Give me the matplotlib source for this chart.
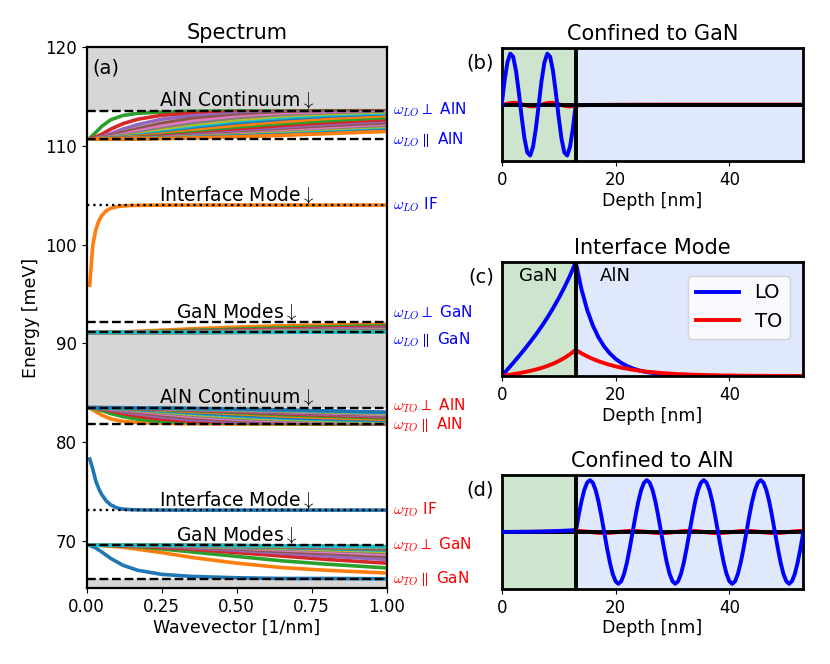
import numpy as np
import matplotlib
matplotlib.use("Agg")
import matplotlib.pyplot as plt
import matplotlib.transforms as mtransforms

plt.rcParams['mathtext.fontset'] = 'cm'
plt.rcParams['font.size'] = 12

# ---------------- spectrum data ----------------
# wavevector samples [1/nm]
q = [0.01, 0.03, 0.05, 0.08, 0.12, 0.17, 0.25, 0.35, 0.5, 0.65, 0.8, 1.0]
q_if = [0.01, 0.02, 0.03, 0.04, 0.05, 0.065, 0.08, 0.1, 0.12, 0.15, 0.2, 0.3, 0.5, 1.0]

# bulk phonon energies [meV]
lo_perp_aln, lo_par_aln = 113.58, 110.71
lo_perp_gan, lo_par_gan = 92.14, 91.12
to_perp_aln, to_par_aln = 83.49, 81.83
to_perp_gan, to_par_gan = 69.57, 66.13
lo_if, to_if = 104.02, 73.12

# interface modes [meV]
lo_if_curve = [95.9, 99.9, 101.5, 102.4, 102.95, 103.45, 103.7, 103.85, 103.93, 103.98, 104.0, 104.02, 104.02, 104.02]
to_if_curve = [78.3, 77.3, 76.1, 75.3, 74.7, 74.05, 73.65, 73.35, 73.22, 73.16, 73.13, 73.12, 73.12, 73.12]

# confined modes, read as position inside their band (0 = q->0 edge, 1 = far edge)
aln_frac = [
    [.03, .23, .45, .68, .83, .91, .95, .98, .99, .99, 1.0, 1.0],
    [.01, .07, .17, .35, .54, .70, .84, .91, .95, .97, .98, .99],
    [.00, .03, .08, .19, .35, .51, .70, .82, .90, .94, .96, .97],
    [.00, .02, .05, .12, .23, .37, .56, .72, .84, .90, .93, .95],
    [.00, .01, .03, .08, .16, .28, .45, .62, .77, .85, .89, .93],
    [.00, .01, .02, .06, .12, .21, .36, .53, .70, .80, .85, .90],
    [.00, .01, .02, .04, .09, .16, .30, .45, .63, .74, .81, .87],
    [.00, .00, .01, .03, .07, .13, .24, .39, .56, .69, .77, .84],
    [.00, .00, .01, .03, .06, .11, .20, .33, .51, .63, .72, .80],
    [.00, .00, .01, .02, .05, .09, .17, .29, .45, .58, .68, .77],
    [.00, .00, .01, .01, .03, .06, .13, .22, .36, .49, .60, .70],
    [.00, .00, .00, .01, .02, .05, .10, .17, .30, .42, .52, .63],
    [.00, .00, .00, .01, .02, .04, .07, .14, .24, .35, .45, .56],
    [.00, .00, .00, .01, .01, .03, .06, .11, .20, .30, .40, .51],
    [.00, .00, .00, .01, .01, .02, .05, .09, .17, .26, .35, .45],
    [.00, .00, .00, .00, .01, .02, .04, .08, .15, .22, .30, .41],
    [.00, .00, .00, .00, .01, .02, .03, .07, .13, .20, .27, .36],
    [.00, .00, .00, .00, .01, .01, .03, .06, .11, .17, .24, .33],
    [.00, .00, .00, .00, .00, .01, .03, .05, .10, .15, .21, .30],
    [.00, .00, .00, .00, .00, .01, .02, .04, .08, .13, .19, .27],
]

gan_lo_first = [0, 0, 0, 0, 0, 0, 0, 0, 0, 0, 0, 0]
gan_to_first = [.01, .08, .20, .39, .59, .74, .86, .92, .96, .98, .98, .99]
gan_frac = [
    [.00, .00, .01, .03, .06, .12, .22, .36, .53, .66, .74, .82],
    [.00, .00, .01, .01, .03, .05, .11, .20, .33, .46, .56, .67],
    [.00, .00, .00, .01, .02, .03, .07, .12, .22, .32, .42, .53],
    [.00, .00, .00, .00, .01, .02, .04, .08, .15, .23, .32, .42],
    [.00, .00, .00, .00, .01, .01, .03, .06, .11, .18, .24, .33],
    [.00, .00, .00, .00, .00, .01, .02, .04, .08, .14, .19, .27],
    [.00, .00, .00, .00, .00, .01, .02, .03, .07, .11, .15, .22],
    [.00, .00, .00, .00, .00, .00, .01, .03, .05, .09, .13, .18],
    [.00, .00, .00, .00, .00, .00, .01, .02, .04, .07, .10, .15],
    [.00, .00, .00, .00, .00, .00, .01, .02, .04, .06, .09, .13],
    [.00, .00, .00, .00, .00, .00, .01, .02, .03, .05, .07, .11],
    [.00, .00, .00, .00, .00, .00, .01, .01, .03, .04, .06, .10],
    [.00, .00, .00, .00, .00, .00, .01, .01, .02, .04, .06, .08],
    [0, 0, 0, 0, 0, 0, .005, .010, .020, .033, .049, .074],
    [0, 0, 0, 0, 0, 0, .004, .009, .017, .029, .043, .066],
    [0, 0, 0, 0, 0, 0, .004, .008, .015, .026, .038, .059],
    [0, 0, 0, 0, 0, 0, .003, .007, .014, .023, .035, .053],
    [0, 0, 0, 0, 0, 0, .003, .006, .012, .021, .031, .048],
    [0, 0, 0, 0, 0, 0, .003, .006, .011, .019, .028, .043],
]

# ---------------- mode profiles ----------------
well_width = 13
total_depth = 53

# (b) confined to GaN
depth_b_gan = np.arange(0, 13.01, 0.5)
lo_b_gan = [0, .465, .823, .993, .935, .663, .239, -.239, -.663, -.935, -.993, -.823, -.465,
            0, .465, .823, .993, .935, .663, .239, -.239, -.663, -.935, -.993, -.823, -.465, 0]
to_b_gan = [-.016, 0, .016, .029, .035, .033, .023, .008, -.008, -.023, -.033, -.035, -.029, -.016,
            0, .016, .029, .035, .033, .023, .008, -.008, -.023, -.033, -.035, -.029, -.016]
depth_b_aln = [13, 14, 15, 16, 17, 18, 19, 20, 22, 25, 30, 40, 53]
lo_b_aln = [0, 0, 0, 0, 0, 0, 0, 0, 0, 0, 0, 0, 0]
to_b_aln = [-.016, -.013, -.010, -.008, -.006, -.005, -.004, -.003, -.002, -.001, 0, 0, 0]

# (c) interface mode
depth_c = np.arange(0, 54)
lo_c = [0, .057, .114, .173, .234, .298, .364, .435, .511, .593, .681, .777, .881, 1.0,
        .763, .582, .444, .339, .259, .198, .151, .115, .088, .067,
        .051, .039, .030, .023, .017, .013, .010, .008, .006, .005,
        .003, .003, .002, .002, .001, .001, .001, .001, 0, 0,
        0, 0, 0, 0, 0, 0, 0, 0, 0, 0]
to_c = [0, .008, .016, .025, .034, .045, .057, .071, .088, .107, .131, .158, .191, .23,
        .199, .173, .150, .130, .113, .098, .085, .073, .064, .055,
        .048, .041, .036, .031, .027, .023, .020, .017, .015, .013,
        .011, .010, .008, .007, .006, .005, .005, .004, .003, .003,
        .002, .002, .002, .001, .001, .001, .001, .001, 0, 0]

# (d) confined to AlN
depth_d_gan = np.arange(0, 14)
lo_d_gan = [0, .001, .002, .003, .004, .005, .007, .009, .012, .015, .019, .024, .030, .037]
to_d_gan = [0, .001, .001, .002, .002, .003, .004, .005, .006, .008, .010, .013, .017, .022]
depth_d_aln = np.arange(13, 53.01, 0.5)
lo_d_aln = [0, .309, .588, .809, .951, 1, .951, .809, .588, .309, 0, -.309, -.588, -.809, -.951, -1, -.951, -.809, -.588, -.309,
            0, .309, .588, .809, .951, 1, .951, .809, .588, .309, 0, -.309, -.588, -.809, -.951, -1, -.951, -.809, -.588, -.309,
            0, .309, .588, .809, .951, 1, .951, .809, .588, .309, 0, -.309, -.588, -.809, -.951, -1, -.951, -.809, -.588, -.309,
            0, .309, .588, .809, .951, 1, .951, .809, .588, .309, 0, -.309, -.588, -.809, -.951, -1, -.951, -.809, -.588, -.309,
            0]
to_d_aln = [.022, .021, .018, .013, .007, 0, -.007, -.013, -.018, -.021, -.022, -.021, -.018, -.013, -.007, 0, .007, .013, .018, .021,
            .022, .021, .018, .013, .007, 0, -.007, -.013, -.018, -.021, -.022, -.021, -.018, -.013, -.007, 0, .007, .013, .018, .021,
            .022, .021, .018, .013, .007, 0, -.007, -.013, -.018, -.021, -.022, -.021, -.018, -.013, -.007, 0, .007, .013, .018, .021,
            .022, .021, .018, .013, .007, 0, -.007, -.013, -.018, -.021, -.022, -.021, -.018, -.013, -.007, 0, .007, .013, .018, .021,
            .022]

# ---------------- figure ----------------
fig = plt.figure(figsize=(8.3, 6.64), dpi=100)
ax = fig.add_axes([0.1045, 0.114, 0.3614, 0.8147])
ax_b = fig.add_axes([0.6045, 0.7575, 0.3634, 0.170])
ax_c = fig.add_axes([0.6045, 0.4337, 0.3634, 0.1717])
ax_d = fig.add_axes([0.6045, 0.113, 0.3634, 0.1717])

q = np.array(q)
lw = 2.6

# gray forbidden regions
gray = '#d6d6d6'
ax.axhspan(65.2, to_par_gan, color=gray, lw=0, zorder=0)
ax.axhspan(to_perp_aln, lo_par_gan, color=gray, lw=0, zorder=0)
ax.axhspan(lo_perp_aln, 120, color=gray, lw=0, zorder=0)

# LO AlN continuum
for i, f in enumerate(aln_frac):
    ax.plot(q, lo_par_aln + np.array(f) * (lo_perp_aln - lo_par_aln), color='C%d' % ((i + 2) % 10), lw=lw)
# LO interface
ax.plot(q_if, lo_if_curve, color='C1', lw=lw)
# LO GaN
ax.plot(q, lo_par_gan + np.array(gan_lo_first) * (lo_perp_gan - lo_par_gan), color='C0', lw=lw)
for i, f in enumerate(gan_frac):
    ax.plot(q, lo_par_gan + np.array(f) * (lo_perp_gan - lo_par_gan), color='C%d' % ((i + 1) % 10), lw=lw)
# TO AlN continuum
for i, f in enumerate(aln_frac):
    ax.plot(q, to_perp_aln - np.array(f) * (to_perp_aln - to_par_aln), color='C%d' % ((i + 1) % 10), lw=lw)
# TO interface
ax.plot(q_if, to_if_curve, color='C0', lw=lw)
# TO GaN
ax.plot(q, to_perp_gan - np.array(gan_to_first) * (to_perp_gan - to_par_gan), color='C0', lw=lw)
for i, f in enumerate(gan_frac):
    ax.plot(q, to_perp_gan - np.array(f) * (to_perp_gan - to_par_gan), color='C%d' % ((i + 1) % 10), lw=lw)

for e in [lo_perp_aln, lo_par_aln, lo_perp_gan, lo_par_gan, to_perp_aln, to_par_aln, to_perp_gan, to_par_gan]:
    ax.axhline(e, color='k', ls='--', lw=1.7, zorder=5)
for e in [lo_if, to_if]:
    ax.axhline(e, color='k', ls=':', lw=1.7, zorder=5)

for top in [lo_perp_aln, to_perp_aln]:
    ax.text(0.5, top + 0.45, r'AlN Continuum$\downarrow$', ha='center', va='baseline', fontsize=13.5, zorder=6)
for top in [lo_if, to_if]:
    ax.text(0.5, top + 0.45, r'Interface Mode$\downarrow$', ha='center', va='baseline', fontsize=13.5, zorder=6)
for top in [lo_perp_gan, to_perp_gan]:
    ax.text(0.5, top + 0.45, r'GaN Modes$\downarrow$', ha='center', va='baseline', fontsize=13.5, zorder=6)

trans = mtransforms.blended_transform_factory(ax.transAxes, ax.transData)
lo_labels = [(113.7, r'$\omega_{LO}\perp$ AlN'), (110.71, r'$\omega_{LO}\parallel$ AlN'),
             (104.02, r'$\omega_{LO}$ IF'), (93.1, r'$\omega_{LO}\perp$ GaN'),
             (90.4, r'$\omega_{LO}\parallel$ GaN')]
to_labels = [(83.65, r'$\omega_{TO}\perp$ AlN'), (81.75, r'$\omega_{TO}\parallel$ AlN'),
             (73.12, r'$\omega_{TO}$ IF'), (69.6, r'$\omega_{TO}\perp$ GaN'),
             (66.2, r'$\omega_{TO}\parallel$ GaN')]
for e, s in lo_labels:
    ax.text(1.02, e, s, transform=trans, color='blue', va='center', ha='left', fontsize=11)
for e, s in to_labels:
    ax.text(1.02, e, s, transform=trans, color='red', va='center', ha='left', fontsize=11)

ax.set_xlim(0, 1)
ax.set_ylim(65.2, 120)
ax.set_xticks([0, 0.25, 0.5, 0.75, 1.0])
ax.set_xticklabels(['0.00', '0.25', '0.50', '0.75', '1.00'])
ax.set_yticks([70, 80, 90, 100, 110, 120])
ax.set_xlabel('Wavevector [1/nm]', fontsize=12.5, labelpad=2)
ax.set_ylabel('Energy [meV]', fontsize=12.5)
ax.set_title('Spectrum', fontsize=15)
ax.text(0.02, 0.962, '(a)', transform=ax.transAxes, ha='left', va='center', fontsize=14)
for s in ax.spines.values():
    s.set_linewidth(1.6)


def depth_panel(a, title, label):
    a.axvspan(0, well_width, color='green', alpha=0.2, lw=0, zorder=0)
    a.axvspan(well_width, total_depth, color='cornflowerblue', alpha=0.2, lw=0, zorder=0)
    a.axvline(well_width, color='k', lw=2.8, zorder=6)
    a.set_xlim(0, total_depth)
    a.set_xticks([0, 20, 40])
    a.set_yticks([])
    a.set_xlabel('Depth [nm]', fontsize=12.5, labelpad=2)
    a.set_title(title, fontsize=15)
    a.text(-0.025, 0.87, label, transform=a.transAxes, ha='right', va='center', fontsize=14)
    for s in a.spines.values():
        s.set_linewidth(2)


# (b)
ax_b.plot(depth_b_gan, to_b_gan, color='red', lw=2.8, zorder=2)
ax_b.plot(depth_b_aln, to_b_aln, color='red', lw=2.8, zorder=2)
ax_b.axhline(0, color='k', lw=2.8, zorder=3)
ax_b.plot(depth_b_gan, lo_b_gan, color='blue', lw=2.8, zorder=4)
ax_b.plot(depth_b_aln, lo_b_aln, color='blue', lw=2.8, zorder=2)
ax_b.set_ylim(-1.1, 1.1)
depth_panel(ax_b, 'Confined to GaN', '(b)')

# (c)
ax_c.plot(depth_c, lo_c, color='blue', lw=2.8, label='LO')
ax_c.plot(depth_c, to_c, color='red', lw=2.8, label='TO')
ax_c.set_ylim(0, 1.0)
ax_c.text(6.5, 0.88, 'GaN', ha='center', va='center', fontsize=13)
ax_c.text(19.9, 0.88, 'AlN', ha='center', va='center', fontsize=13)
ax_c.legend(loc='upper right', fontsize=14, handlelength=2.2, borderaxespad=0.7)
depth_panel(ax_c, 'Interface Mode', '(c)')

# (d)
ax_d.plot(depth_d_gan, to_d_gan, color='red', lw=2.8, zorder=2)
ax_d.plot(depth_d_aln, to_d_aln, color='red', lw=2.8, zorder=2)
ax_d.axhline(0, color='k', lw=2.8, zorder=3)
ax_d.plot(depth_d_gan, lo_d_gan, color='blue', lw=2.8, zorder=4)
ax_d.plot(depth_d_aln, lo_d_aln, color='blue', lw=2.8, zorder=4)
ax_d.set_ylim(-1.1, 1.1)
depth_panel(ax_d, 'Confined to AlN', '(d)')

fig.savefig('out.png', dpi=100)
